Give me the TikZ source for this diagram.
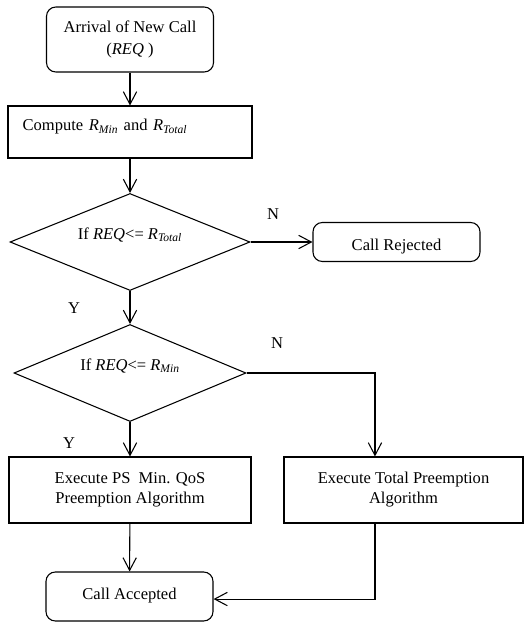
\documentclass[tikz,border=0pt]{standalone}
\usepackage{fontspec}
\setmainfont{Liberation Serif}
\usetikzlibrary{shapes,shapes.misc,shapes.geometric,arrows.meta}

\begin{document}
\begin{tikzpicture}[x=0.75pt,y=-0.75pt, line width=0.8pt, ->,
        >={Straight Barb[length=9.5pt,width=10pt]},
        every node/.append style={font=\fontsize{12.4}{15}\selectfont}]
      \tikzstyle{terminal} = [draw, rounded corners=7pt, align=center, inner sep=0pt]
      \tikzstyle{process} = [draw, align=center, inner sep=0pt]
      \tikzstyle{decision} = [draw, diamond, aspect=2.5, inner sep=0pt, text height=9pt, text depth=13.5pt]
      \tikzstyle{word} = [inner sep=0pt]
      \useasboundingbox (0,0) rectangle (525,624);
      \node (arrival) [terminal, minimum width=125.25pt, minimum height=48.75pt] at (130,39.5)
        {Arrival of New Call\\[2pt](\textit{REQ} )};
      \node (compute) [process, inner xsep=11pt, text width=161pt, align=left, minimum height=39pt,
        text height=9pt, text depth=11pt] at (130,132)
        {Compute \textit{R}\textsubscript{\textit{Min}} and \textit{R}\textsubscript{\textit{Total}}};
      \node (ifTotal) [decision, minimum width=180pt, minimum height=72.75pt] at (130,242)
        {If \textit{REQ}<= \textit{R}\textsubscript{\textit{Total}}};
      \node (rejected) [terminal, minimum width=125.25pt, minimum height=29.25pt,
        text height=12pt, text depth=0pt] at (396.5,242) {Call Rejected};
      \node (ifMin) [decision, minimum width=174pt, minimum height=72.75pt] at (130,373)
        {If \textit{REQ}<= \textit{R}\textsubscript{\textit{Min}}};
      \node (execPS) [process, minimum width=181.5pt, minimum height=49.5pt] at (130,490)
        {Execute PS~ Min. QoS\\Preemption Algorithm};
      \node (execTotal) [process, minimum width=179.25pt, minimum height=49.5pt] at (403.5,490)
        {Execute Total Preemption\\Algorithm};
      \node (accepted) [terminal, minimum width=125.25pt, minimum height=36.75pt,
        text height=9pt, text depth=5.25pt] at (129.5,596.5) {Call Accepted};
      \node (nTotal) [word] at (273,214) {N};
      \node (yTotal) [word] at (74,308) {Y};
      \node (nMin) [word] at (277,343) {N};
      \node (yMin) [word] at (69,443) {Y};
      \draw (arrival) -- (compute);
      \draw (compute) -- (ifTotal);
      \draw (ifTotal) -- (rejected);
      \draw (ifTotal) -- (ifMin);
      \draw (ifMin) -- (execPS);
      \draw (ifMin) -| ([xshift=-21.4pt]execTotal.north);
      \draw (execPS) -- (accepted);
      \draw ([xshift=-21.4pt]execTotal.south) |- ([yshift=-1.9pt]accepted.east);
    \end{tikzpicture}
\end{document}
